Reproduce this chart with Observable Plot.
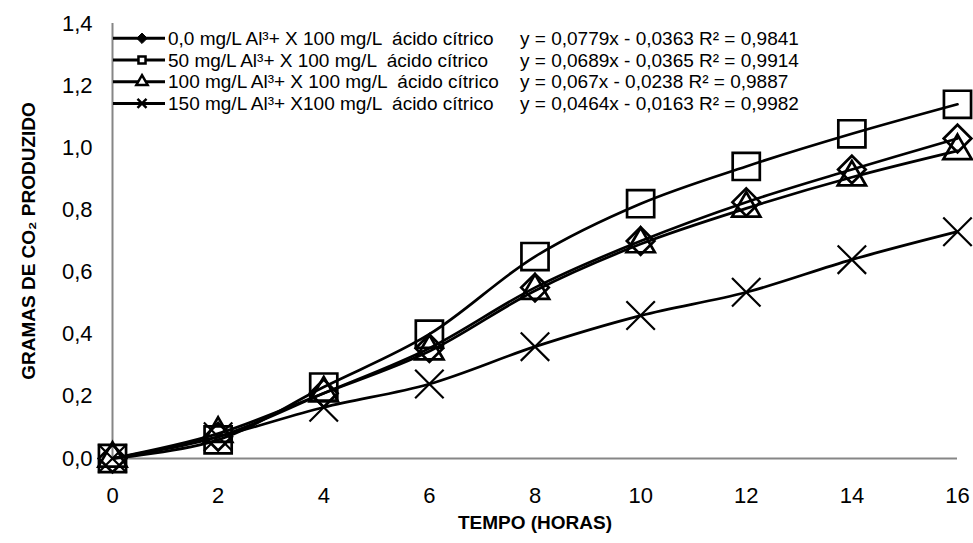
<!DOCTYPE html>
<html>
<head>
<meta charset="utf-8">
<script src="https://cdn.jsdelivr.net/npm/d3@7"></script>
<script src="https://cdn.jsdelivr.net/npm/@observablehq/plot@0.6"></script>
<style>
  html, body { margin: 0; padding: 0; background: #fff; }
  #chart { width: 973px; height: 543px; }
  svg text { white-space: pre; }
</style>
</head>
<body>
<div id="chart"></div>
<script>
// ---- data ----
const hours = [0, 2, 4, 6, 8, 10, 12, 14, 16];
const al0   = [0, 0.07, 0.21, 0.355, 0.55, 0.70, 0.825, 0.93, 1.03];
const al50  = [0, 0.06, 0.23, 0.40, 0.65, 0.82, 0.94, 1.045, 1.14];
const al100 = [0, 0.08, 0.21, 0.345, 0.54, 0.69, 0.805, 0.905, 0.99];
const al150 = [0, 0.07, 0.165, 0.24, 0.36, 0.46, 0.535, 0.64, 0.73];
const seriesNames = [
  "0,0 mg/L Al³+ X 100 mg/L  ácido cítrico",
  "50 mg/L Al³+ X 100 mg/L  ácido cítrico",
  "100 mg/L Al³+ X 100 mg/L  ácido cítrico",
  "150 mg/L Al³+ X100 mg/L  ácido cítrico"
];
const equations = [
  "y = 0,0779x - 0,0363 R² = 0,9841",
  "y = 0,0689x - 0,0365 R² = 0,9914",
  "y = 0,067x - 0,0238 R² = 0,9887",
  "y = 0,0464x - 0,0163 R² = 0,9982"
];
const xTicks = [0, 2, 4, 6, 8, 10, 12, 14, 16];
const yTicks = [0, 0.2, 0.4, 0.6, 0.8, 1.0, 1.2, 1.4];
const xTitle = "TEMPO (HORAS)";
const yTitle = "GRAMAS DE CO₂ PRODUZIDO";

// ---- build ----
const allSeries = [al0, al50, al100, al150];
const symbols = ["diamond2", "square", "triangle", "times"];
const radii = [12.4, 15.3, 10.5, 13];
const rows = allSeries.map((vals, i) => hours.map((h, j) => ({hour: h, value: vals[j], series: seriesNames[i]})));

const AXIS = "#868686";
const FONT = "'Liberation Sans', Arial, sans-serif";
const marks = [
  Plot.ruleY([0], {stroke: AXIS, strokeWidth: 2}),
  Plot.ruleX([0], {y1: 0, y2: 1.4, stroke: AXIS, strokeWidth: 2}),
  Plot.axisX({ticks: xTicks, tickSize: 0, tickPadding: 29, fontSize: 22, label: null, tickFormat: d => String(d)}),
  Plot.axisY({ticks: yTicks, tickSize: 0, tickPadding: 20, fontSize: 22, label: null, tickFormat: d => d.toFixed(1).replace(".", ",")}),
  Plot.text([xTitle], {frameAnchor: "bottom", dy: 70, textAnchor: "middle", fontWeight: "bold", fontSize: 19, fill: "black"}),
  Plot.text([yTitle], {frameAnchor: "left", dx: -84, textAnchor: "middle", rotate: -90, fontWeight: "bold", fontSize: 19, fill: "black"})
];
rows.forEach((r, i) => {
  marks.push(Plot.line(r, {x: "hour", y: "value", curve: "catmull-rom", stroke: "black", strokeWidth: 2.7}));
  marks.push(Plot.dot(r, {x: "hour", y: "value", symbol: () => symbols[i], r: radii[i], stroke: "black", strokeWidth: i === 3 ? 2.2 : 2.7, fill: "none"}));
});

const chart = Plot.plot({
  width: 973,
  height: 543,
  marginLeft: 112,
  marginRight: 16,
  marginTop: 23,
  marginBottom: 85,
  x: {domain: [0, 16]},
  y: {domain: [0, 1.4]},
  symbol: {type: "identity"},
  style: {fontFamily: FONT, color: "black", background: "white", overflow: "visible"},
  marks
});
document.getElementById("chart").appendChild(chart);

// ---- legend (layout only) ----
const svg = d3.select(chart);
const legendSymbols = [d3.symbolDiamond2, d3.symbolSquare, d3.symbolTriangle, d3.symbolTimes];
const legendSizes = [70, 50, 55, 55];
const lg = svg.append("g").attr("font-family", FONT).attr("font-size", 19).attr("text-anchor", "start");
seriesNames.forEach((name, i) => {
  const y = 38.3 + 21.7 * i;
  lg.append("line").attr("x1", 113).attr("x2", 165).attr("y1", y).attr("y2", y).attr("stroke", "black").attr("stroke-width", 3);
  lg.append("path").attr("transform", `translate(142,${y})`)
    .attr("d", d3.symbol(legendSymbols[i], legendSizes[i])())
    .attr("fill", i === 0 ? "black" : "white").attr("stroke", "black").attr("stroke-width", i === 0 ? 1 : 2.5);
  lg.append("text").attr("x", 168).attr("y", y).attr("dy", "0.35em").attr("fill", "black").text(name);
  lg.append("text").attr("x", 520).attr("y", y).attr("dy", "0.35em").attr("fill", "black").text(equations[i]);
});
</script>
</body>
</html>
